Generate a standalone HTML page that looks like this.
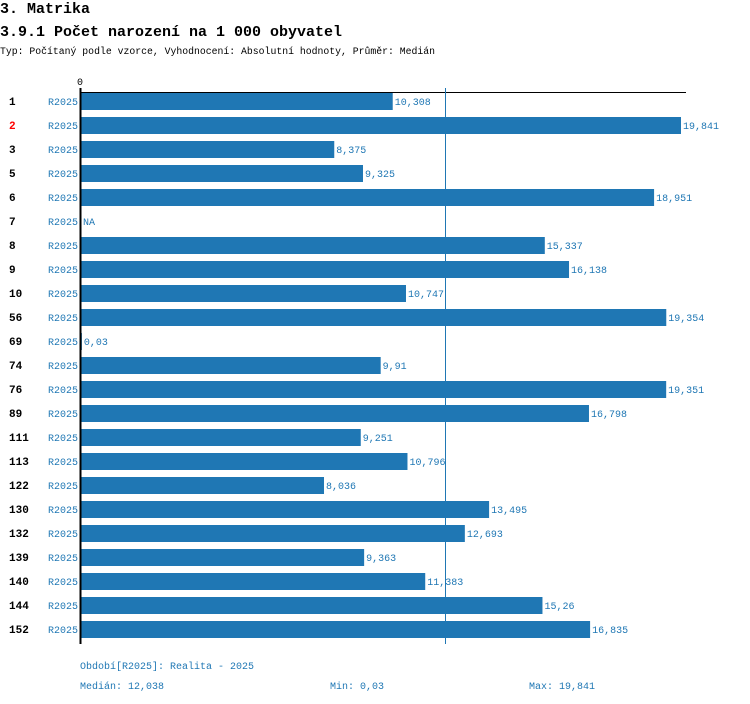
<!DOCTYPE html>
<html><head><meta charset="utf-8"><style>
body{margin:0;background:#fff;width:750px;height:704px;overflow:hidden}
svg{display:block}
text{font-family:"Liberation Mono",monospace}
</style></head><body>
<svg id="chart" width="750" height="704">
<text x="0" y="13" font-size="15" font-weight="bold">3. Matrika</text>
<text x="0" y="36" font-size="15" font-weight="bold">3.9.1 Počet narození na 1 000 obyvatel</text>
<text x="0" y="54" font-size="9.8">Typ: Počítaný podle vzorce, Vyhodnocení: Absolutní hodnoty, Průměr: Medián</text>
<text x="80" y="85" font-size="10" text-anchor="middle">0</text>
<line x1="80" y1="92.5" x2="686" y2="92.5" stroke="#000" stroke-width="1"/>
<g id="bars"></g>
<line x1="80.5" y1="88" x2="80.5" y2="644" stroke="#000" stroke-width="2"/>
<rect id="median" y="88" width="1" height="556" fill="#1f77b4"/>
<g fill="#1f77b4" font-size="10">
<text x="80" y="669">Období[R2025]: Realita - 2025</text>
<text x="80" y="689">Medián: 12,038</text>
<text x="330" y="689">Min: 0,03</text>
<text x="529" y="689">Max: 19,841</text>
</g>
</svg>
<script>
const categories=["1","2","3","5","6","7","8","9","10","56","69","74","76","89","111","113","122","130","132","139","140","144","152"];
const values=[10.308,19.841,8.375,9.325,18.951,null,15.337,16.138,10.747,19.354,0.03,9.91,19.351,16.798,9.251,10.796,8.036,13.495,12.693,9.363,11.383,15.26,16.835];
const labels=["10,308","19,841","8,375","9,325","18,951","NA","15,337","16,138","10,747","19,354","0,03","9,91","19,351","16,798","9,251","10,796","8,036","13,495","12,693","9,363","11,383","15,26","16,835"];
const highlighted=["2"];
const medianValue=12.038;
const maxValue=19.841;
const x0=81, plotW=600, y0=101, step=24, barH=17;
const xs=v=>x0+v/maxValue*plotW;
const ys=i=>y0+i*step;
const ns="http://www.w3.org/2000/svg";
const g=document.getElementById('bars');
document.getElementById('median').setAttribute('x',Math.round(xs(medianValue)));
function mk(t,a){const e=document.createElementNS(ns,t);for(const k in a)e.setAttribute(k,a[k]);return e;}
categories.forEach((c,i)=>{
  const y=ys(i);
  const lab=mk('text',{x:9,y:y+4,'font-size':11,'font-weight':'bold',fill:highlighted.includes(c)?'#f00':'#000'});
  lab.textContent=c;
  
  
  g.appendChild(lab);
  const per=mk('text',{x:78,y:y+4,'font-size':10,'text-anchor':'end',fill:'#1f77b4'});
  per.textContent='R2025';
  
  
  g.appendChild(per);
  let end=x0;
  if(values[i]!==null){
    end=xs(values[i]);
    const r=mk('rect',{x:x0,y:y-8,width:end-x0,height:barH,fill:'#1f77b4'});
    
    
    g.appendChild(r);
  }
  const vt=mk('text',{x:end+2,y:y+4,'font-size':10,fill:'#1f77b4'});
  vt.textContent=labels[i];
  
  
  g.appendChild(vt);
});
</script>
</body></html>
